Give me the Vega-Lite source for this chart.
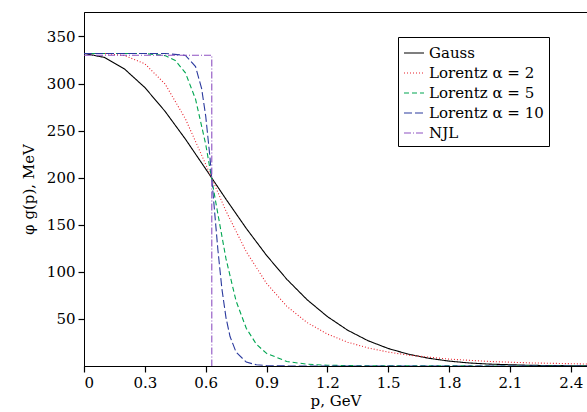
{
  "$schema": "https://vega.github.io/schema/vega-lite/v6.json",
  "width": 503,
  "height": 354,
  "autosize": "none",
  "padding": {"left": 84, "top": 12, "right": 0, "bottom": 46},
  "config": {
    "font": "DejaVu Serif",
    "view": {"stroke": "black", "strokeWidth": 1},
    "axis": {"grid": false, "domainColor": "black", "tickColor": "black", "labelColor": "black", "titleColor": "black",
             "labelFont": "DejaVu Serif", "titleFont": "DejaVu Serif", "labelFontSize": 15, "titleFontSize": 15,
             "titleFontWeight": "normal", "labelPadding": 3, "tickSize": 6, "tickWidth": 1.2}
  },
  "data": {"values": [
    {"p": 0, "v": 332, "s": "Gauss"}, {"p": 0.1, "v": 327.8, "s": "Gauss"}, {"p": 0.2, "v": 315.4, "s": "Gauss"},
    {"p": 0.3, "v": 295.8, "s": "Gauss"}, {"p": 0.4, "v": 270.4, "s": "Gauss"}, {"p": 0.5, "v": 241.0, "s": "Gauss"},
    {"p": 0.6, "v": 209.3, "s": "Gauss"}, {"p": 0.7, "v": 177.2, "s": "Gauss"}, {"p": 0.8, "v": 146.2, "s": "Gauss"},
    {"p": 0.9, "v": 117.5, "s": "Gauss"}, {"p": 1.0, "v": 92.1, "s": "Gauss"}, {"p": 1.1, "v": 70.4, "s": "Gauss"},
    {"p": 1.2, "v": 52.5, "s": "Gauss"}, {"p": 1.3, "v": 38.0, "s": "Gauss"}, {"p": 1.4, "v": 26.9, "s": "Gauss"},
    {"p": 1.5, "v": 18.6, "s": "Gauss"}, {"p": 1.6, "v": 12.5, "s": "Gauss"}, {"p": 1.7, "v": 8.2, "s": "Gauss"},
    {"p": 1.8, "v": 5.2, "s": "Gauss"}, {"p": 1.9, "v": 3.2, "s": "Gauss"}, {"p": 2.0, "v": 2.0, "s": "Gauss"},
    {"p": 2.2, "v": 0.7, "s": "Gauss"}, {"p": 2.48, "v": 0.1, "s": "Gauss"},

    {"p": 0, "v": 332, "s": "Lorentz α = 2"}, {"p": 0.1, "v": 331.9, "s": "Lorentz α = 2"}, {"p": 0.2, "v": 329.8, "s": "Lorentz α = 2"},
    {"p": 0.3, "v": 321.0, "s": "Lorentz α = 2"}, {"p": 0.4, "v": 299.5, "s": "Lorentz α = 2"}, {"p": 0.5, "v": 262.5, "s": "Lorentz α = 2"},
    {"p": 0.6, "v": 214.3, "s": "Lorentz α = 2"}, {"p": 0.7, "v": 164.6, "s": "Lorentz α = 2"}, {"p": 0.8, "v": 121.4, "s": "Lorentz α = 2"},
    {"p": 0.9, "v": 87.8, "s": "Lorentz α = 2"}, {"p": 1.0, "v": 63.4, "s": "Lorentz α = 2"}, {"p": 1.1, "v": 46.1, "s": "Lorentz α = 2"},
    {"p": 1.2, "v": 33.9, "s": "Lorentz α = 2"}, {"p": 1.3, "v": 25.3, "s": "Lorentz α = 2"}, {"p": 1.4, "v": 19.2, "s": "Lorentz α = 2"},
    {"p": 1.5, "v": 14.8, "s": "Lorentz α = 2"}, {"p": 1.6, "v": 11.5, "s": "Lorentz α = 2"}, {"p": 1.8, "v": 7.3, "s": "Lorentz α = 2"},
    {"p": 2.0, "v": 4.8, "s": "Lorentz α = 2"}, {"p": 2.2, "v": 3.3, "s": "Lorentz α = 2"}, {"p": 2.48, "v": 2.1, "s": "Lorentz α = 2"},

    {"p": 0, "v": 332, "s": "Lorentz α = 5"}, {"p": 0.3, "v": 331.9, "s": "Lorentz α = 5"}, {"p": 0.4, "v": 329.7, "s": "Lorentz α = 5"},
    {"p": 0.45, "v": 324.5, "s": "Lorentz α = 5"}, {"p": 0.5, "v": 311.4, "s": "Lorentz α = 5"}, {"p": 0.55, "v": 283.4, "s": "Lorentz α = 5"},
    {"p": 0.6, "v": 235.6, "s": "Lorentz α = 5"}, {"p": 0.65, "v": 173.6, "s": "Lorentz α = 5"}, {"p": 0.7, "v": 114.0, "s": "Lorentz α = 5"},
    {"p": 0.75, "v": 68.9, "s": "Lorentz α = 5"}, {"p": 0.8, "v": 40.1, "s": "Lorentz α = 5"}, {"p": 0.85, "v": 23.1, "s": "Lorentz α = 5"},
    {"p": 0.9, "v": 13.4, "s": "Lorentz α = 5"}, {"p": 1.0, "v": 4.8, "s": "Lorentz α = 5"}, {"p": 1.1, "v": 1.9, "s": "Lorentz α = 5"},
    {"p": 1.2, "v": 0.8, "s": "Lorentz α = 5"}, {"p": 1.4, "v": 0.15, "s": "Lorentz α = 5"}, {"p": 2.48, "v": 0, "s": "Lorentz α = 5"},

    {"p": 0, "v": 332, "s": "Lorentz α = 10"}, {"p": 0.4, "v": 332, "s": "Lorentz α = 10"}, {"p": 0.5, "v": 329.9, "s": "Lorentz α = 10"},
    {"p": 0.55, "v": 318, "s": "Lorentz α = 10"}, {"p": 0.58, "v": 294.6, "s": "Lorentz α = 10"}, {"p": 0.6, "v": 265.6, "s": "Lorentz α = 10"},
    {"p": 0.62, "v": 224, "s": "Lorentz α = 10"}, {"p": 0.64, "v": 173.8, "s": "Lorentz α = 10"}, {"p": 0.66, "v": 123.7, "s": "Lorentz α = 10"},
    {"p": 0.68, "v": 81.8, "s": "Lorentz α = 10"}, {"p": 0.7, "v": 51.4, "s": "Lorentz α = 10"}, {"p": 0.72, "v": 31.3, "s": "Lorentz α = 10"},
    {"p": 0.75, "v": 14.6, "s": "Lorentz α = 10"}, {"p": 0.8, "v": 4.2, "s": "Lorentz α = 10"}, {"p": 0.85, "v": 1.25, "s": "Lorentz α = 10"},
    {"p": 0.9, "v": 0.4, "s": "Lorentz α = 10"}, {"p": 1.0, "v": 0.05, "s": "Lorentz α = 10"}, {"p": 2.48, "v": 0, "s": "Lorentz α = 10"},

    {"p": 0, "v": 330, "s": "NJL"}, {"p": 0.63, "v": 330, "s": "NJL"}, {"p": 0.6301, "v": 0, "s": "NJL"}
  ]},
  "mark": {"type": "line", "strokeWidth": 1.1, "clip": true},
  "encoding": {
    "x": {"field": "p", "type": "quantitative", "scale": {"domain": [0, 2.48], "nice": false},
          "axis": {"title": "p, GeV", "format": "~g", "values": [0, 0.3, 0.6, 0.9, 1.2, 1.5, 1.8, 2.1, 2.4], "titlePadding": 3}},
    "y": {"field": "v", "type": "quantitative", "scale": {"domain": [0, 376], "nice": false},
          "axis": {"title": "φ g(p), MeV", "values": [50, 100, 150, 200, 250, 300, 350], "titlePadding": 10}},
    "color": {"field": "s", "type": "nominal", "sort": null,
      "scale": {"domain": ["Gauss", "Lorentz α = 2", "Lorentz α = 5", "Lorentz α = 10", "NJL"],
                "range": ["#000000", "#e8202a", "#00a651", "#2b3a9e", "#8e52c2"]},
      "legend": {"title": null, "orient": "none", "legendX": 314, "legendY": 25, "symbolType": "stroke",
                 "symbolStrokeWidth": 1.2, "symbolSize": 400, "labelFont": "DejaVu Serif", "labelFontSize": 15,
                 "labelColor": "black", "strokeColor": "black", "padding": 5, "rowPadding": 1, "fillColor": "white"}},
    "strokeDash": {"field": "s", "type": "nominal", "sort": null,
      "scale": {"domain": ["Gauss", "Lorentz α = 2", "Lorentz α = 5", "Lorentz α = 10", "NJL"],
                "range": [[1, 0], [1, 2], [5, 3], [8, 3], [7, 2, 1, 2]]},
      "legend": null}
  }
}
